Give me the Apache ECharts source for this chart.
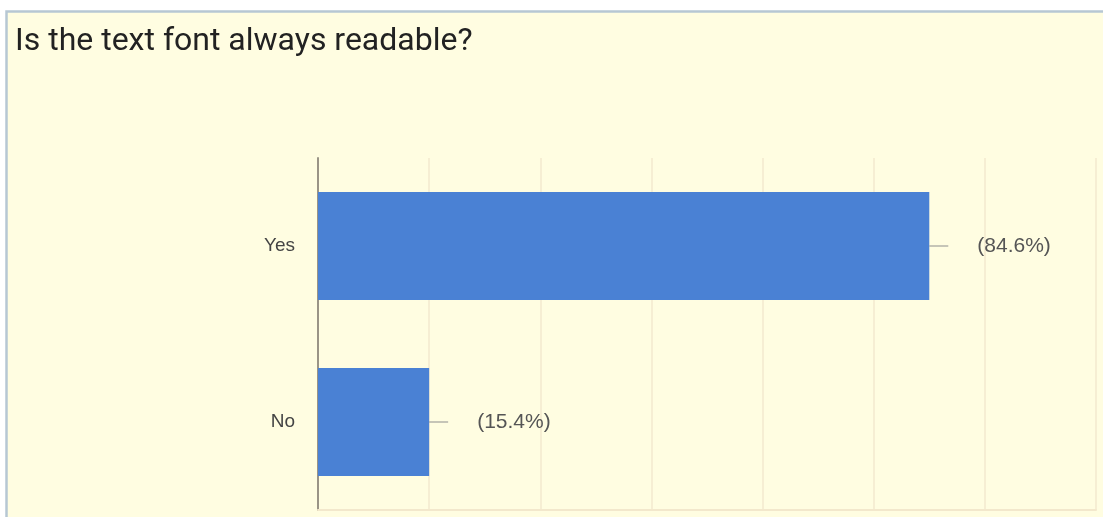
<!DOCTYPE html>
<html>
<head>
<meta charset="utf-8">
<style>
  html, body { margin: 0; padding: 0; background: #ffffff; }
  #chart { width: 1103px; height: 517px; }
</style>
<script src="https://cdn.jsdelivr.net/npm/echarts@6/dist/echarts.min.js"></script>
</head>
<body>
<div id="chart"></div>
<script>
// Survey answers
const title = 'Is the text font always readable?';
const categories = ['Yes', 'No'];
const counts = [11, 2];
const percentLabels = ['(84.6%)', '(15.4%)'];
const axisMax = 14;
const axisStep = 2;

const chart = echarts.init(document.getElementById('chart'));

chart.setOption({
  backgroundColor: '#ffffff',
  animation: false,
  title: {
    text: title,
    left: 10,
    top: 21,
    textStyle: {
      fontFamily: 'Roboto, Arial, sans-serif',
      fontSize: 32,
      fontWeight: 'normal',
      color: '#222222'
    }
  },
  graphic: [{
    type: 'rect',
    z: -10,
    shape: { x: 6.5, y: 11.5, width: 1120, height: 540 },
    style: { fill: '#fffde1', stroke: '#b7c7d3', lineWidth: 2.5 }
  }],
  grid: { left: 318, right: 7, top: 158, bottom: 7 },
  xAxis: {
    type: 'value',
    min: 0,
    max: axisMax,
    interval: axisStep,
    axisLabel: { show: false },
    axisTick: { show: false },
    axisLine: { show: true, lineStyle: { color: '#f3e8cc', width: 2 } },
    splitLine: { show: true, lineStyle: { color: '#f6eed3', width: 2 } }
  },
  yAxis: {
    type: 'category',
    data: categories,
    inverse: true,
    axisTick: { show: false },
    axisLine: { show: true, lineStyle: { color: '#9a9486', width: 2 } },
    axisLabel: {
      margin: 23,
      fontFamily: 'Arial, Liberation Sans, sans-serif',
      fontSize: 19,
      color: '#444444'
    }
  },
  series: [{
    type: 'bar',
    data: counts,
    barWidth: 108,
    itemStyle: { color: '#4a81d4' },
    label: {
      show: true,
      position: 'right',
      distance: 0,
      formatter: (p) => '{line|}{gap|}{txt|' + percentLabels[p.dataIndex] + '}',
      rich: {
        line: { width: 19, height: 1, backgroundColor: '#8c8c8c' },
        gap: { width: 29 },
        txt: {
          fontFamily: 'Arial, Liberation Sans, sans-serif',
          fontSize: 21,
          color: '#555555'
        }
      }
    }
  }]
});
</script>
</body>
</html>
